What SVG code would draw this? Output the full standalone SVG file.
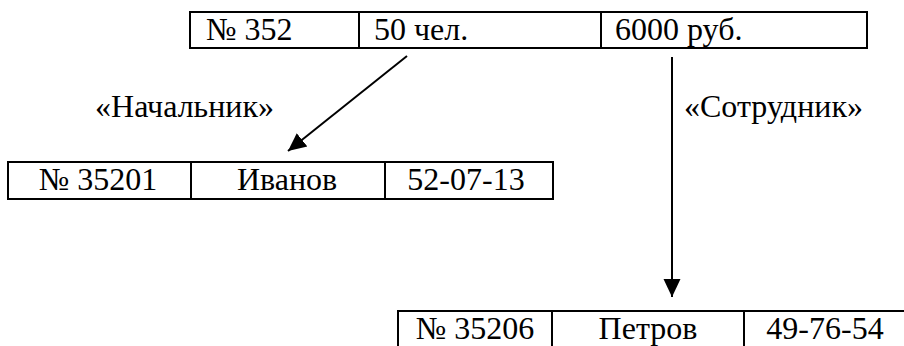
<svg xmlns="http://www.w3.org/2000/svg" width="904" height="346" viewBox="0 0 904 346">
<style>
.cell{fill:#fff;stroke:#000;stroke-width:2}
.div{stroke:#000;stroke-width:2}
.conn{stroke:#000;stroke-width:2;fill:none}
</style>
<defs>
<marker id="ah" markerUnits="userSpaceOnUse" markerWidth="20" markerHeight="20" viewBox="0 0 20 20" refX="18" refY="10" orient="auto">
<path d="M0,1.5 L18,10 L0,18.5 Z" fill="#000"/>
</marker>
</defs>
<g font-family="'Liberation Serif'" font-size="32" fill="#000">
<g id="top">
<rect class="cell" x="190" y="12" width="677" height="36"/>
<line class="div" x1="359" y1="12" x2="359" y2="48"/>
<line class="div" x1="601" y1="12" x2="601" y2="48"/>
<text x="206" y="40">№ 352</text>
<text x="374" y="40">50 чел.</text>
<text x="615" y="40">6000 руб.</text>
</g>
<g id="left" text-anchor="middle">
<rect class="cell" x="8" y="162" width="545" height="37"/>
<line class="div" x1="191" y1="162" x2="191" y2="199"/>
<line class="div" x1="385" y1="162" x2="385" y2="199"/>
<text x="98" y="190">№ 35201</text>
<text x="287" y="190">Иванов</text>
<text x="466" y="190">52-07-13</text>
</g>
<g id="bottom" text-anchor="middle">
<rect class="cell" x="398" y="311" width="520" height="50"/>
<line class="div" x1="552" y1="311" x2="552" y2="346"/>
<line class="div" x1="744" y1="311" x2="744" y2="346"/>
<text x="475" y="339">№ 35206</text>
<text x="648" y="339">Петров</text>
<text x="825" y="339">49-76-54</text>
</g>
<g id="connectors">
<line class="conn" x1="407" y1="56" x2="288" y2="151" marker-end="url(#ah)"/>
<line class="conn" x1="672" y1="57" x2="672" y2="297" marker-end="url(#ah)"/>
</g>
<g id="labels">
<text x="274" y="117" text-anchor="end">«Начальник»</text>
<text x="684" y="117">«Сотрудник»</text>
</g>
</g>
</svg>
